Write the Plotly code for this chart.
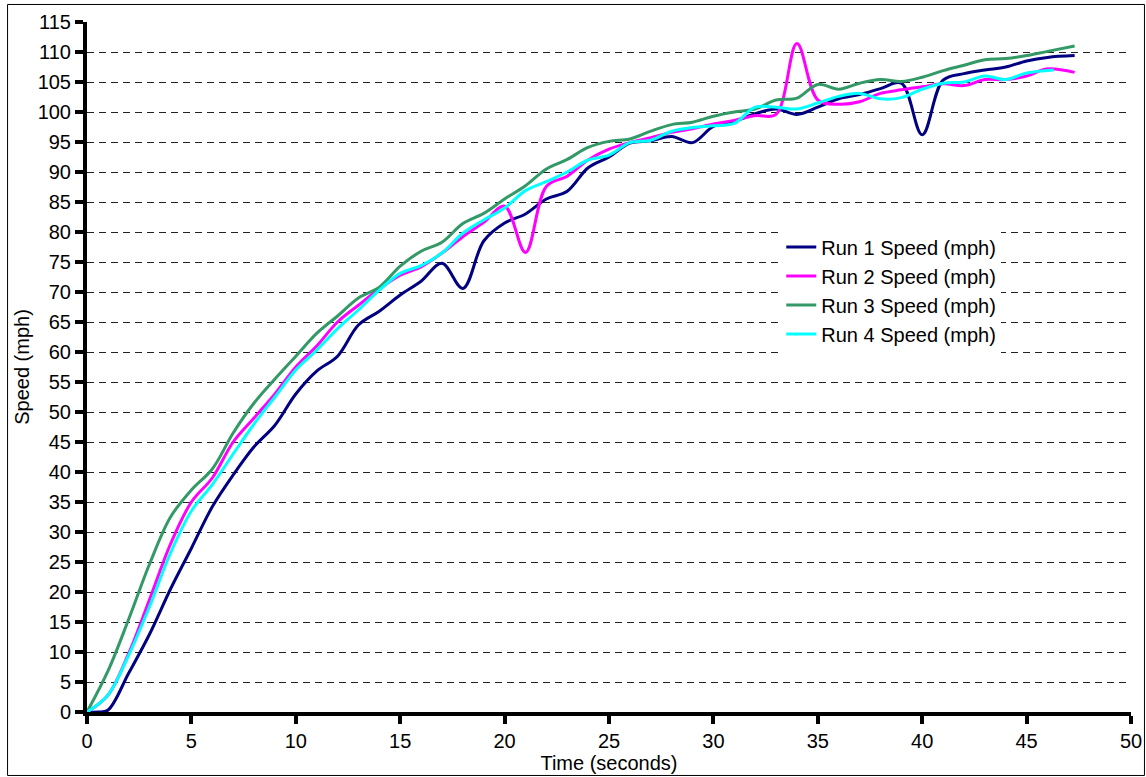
import plotly.graph_objects as go

# ---- data ----
run1_t = [0, 0.5, 1, 2, 3, 4, 5, 6, 7, 8, 9, 10, 11, 12, 13, 14, 15, 16, 17, 18, 19, 20,
          21, 22, 23, 24, 25, 26, 27, 28, 29, 30, 31, 32, 33, 34, 35, 36, 37, 38, 39, 40,
          41, 42, 43, 44, 45, 46, 47.3]
run1_v = [0, 0, 0.3, 6.5, 13, 20.5, 27.3, 34.2, 39.5, 44.2, 47.8, 53, 56.8, 59.3, 64.5, 66.8,
          69.5, 71.8, 74.8, 70.6, 78.5, 81.5, 83, 85.5, 86.8, 90.7, 92.5, 94.8, 95.2, 95.9,
          94.9, 97.6, 98.4, 99.7, 100.5, 99.6, 100.8, 102.2, 102.9, 103.9, 104.8, 96.2,
          105.3, 106.4, 107.0, 107.5, 108.5, 109.1, 109.4]

run2_t = [0, 1, 2, 3, 4, 5, 6, 7, 8, 9, 10, 11, 12, 13, 14, 15, 16, 17, 18, 19, 20,
          21, 22, 23, 24, 25, 26, 27, 28, 29, 30, 31, 32, 33, 34, 35, 36, 37, 38, 39, 40,
          41, 42, 43, 44, 45, 46, 47.3]
run2_v = [0, 2.8, 9.8, 18.8, 28, 35, 39, 45, 49, 53, 57.5, 61, 65, 67.8, 70.5, 72.8, 74.2,
          76.5, 79.2, 81.6, 84.3, 76.6, 87.6, 89.3, 92, 93.8, 94.9, 95.7, 96.6, 97.2, 98,
          98.6, 99.4, 99.6, 111.4, 102, 101.3, 101.7, 103.1, 103.7, 104.2, 104.7, 104.4,
          105.4, 105.4, 106, 107.2, 106.6]

run3_t = [0, 1, 2, 3, 4, 5, 6, 7, 8, 9, 10, 11, 12, 13, 14, 15, 16, 17, 18, 19, 20,
          21, 22, 23, 24, 25, 26, 27, 28, 29, 30, 31, 32, 33, 34, 35, 36, 37, 38, 39, 40,
          41, 42, 43, 44, 45, 46, 47.3]
run3_v = [0, 6.8, 15.5, 24.7, 32.5, 37, 40.5, 46.5, 51.5, 55.5, 59.3, 63.1, 66, 69, 70.8,
          74.3, 76.8, 78.3, 81.4, 83.1, 85.5, 87.7, 90.5, 92.1, 94.1, 95.1, 95.5, 96.8, 97.9,
          98.3, 99.3, 100, 100.5, 102, 102.3, 104.6, 103.8, 104.8, 105.4, 105.1, 105.8,
          106.9, 107.8, 108.7, 108.9, 109.4, 110.1, 111]

run4_t = [0, 1, 2, 3, 4, 5, 6, 7, 8, 9, 10, 11, 12, 13, 14, 15, 16, 17, 18, 19, 20,
          21, 22, 23, 24, 25, 26, 27, 28, 29, 30, 31, 32, 33, 34, 35, 36, 37, 38, 39, 40,
          41, 42, 43, 44, 45, 46.3]
run4_v = [0, 2.8, 9.5, 17.6, 26.5, 33.5, 37.9, 43, 48, 52.5, 57, 60.3, 63.9, 67, 70.3, 73.1,
          74.4, 76.5, 79.8, 82, 84, 86.9, 88.4, 90, 92, 92.8, 94.9, 95.3, 96.8, 97.4, 97.7,
          98.1, 100.8, 100.8, 100.5, 101.5, 102.6, 103.1, 102.2, 102.4, 103.8, 104.8, 105,
          106, 105.4, 106.5, 107]

series_names = ["Run 1 Speed (mph)", "Run 2 Speed (mph)", "Run 3 Speed (mph)", "Run 4 Speed (mph)"]
series_colors = ["#000080", "#FF00FF", "#339966", "#00FFFF"]

x_ticks = list(range(0, 51, 5))
y_ticks = list(range(0, 116, 5))

FONT = "Arial, 'Liberation Sans', sans-serif"
FS = 20

fig = go.Figure()
for i, (t, v) in enumerate([(run1_t, run1_v), (run2_t, run2_v), (run3_t, run3_v), (run4_t, run4_v)]):
    fig.add_trace(go.Scatter(
        x=t, y=v, mode="lines", name=series_names[i], legendgroup=f"g{i}",
        line=dict(color=series_colors[i], width=3, shape="spline", smoothing=1.0),
    ))

fig.update_layout(
    width=1146, height=777,
    margin=dict(l=87, r=15, t=22, b=65),
    paper_bgcolor="white", plot_bgcolor="white",
    font=dict(family=FONT, size=FS, color="black"),
    showlegend=True,
    legend=dict(
        x=0.665, y=0.702, xanchor="left", yanchor="top",
        bgcolor="white", borderwidth=0,
        font=dict(family=FONT, size=FS, color="black"),
        tracegroupgap=0, itemwidth=30,
    ),
    xaxis=dict(
        range=[0, 50], tickvals=x_ticks, ticktext=[str(v) for v in x_ticks],
        ticks="outside", ticklen=8, tickwidth=4, tickcolor="black",
        showline=True, linewidth=4, linecolor="black",
        showgrid=False, zeroline=False, automargin=False,
        tickfont=dict(family=FONT, size=FS),
        title=dict(text="Time (seconds)", font=dict(family=FONT, size=FS), standoff=2),
    ),
    yaxis=dict(
        range=[0, 115], tickvals=y_ticks, ticktext=[str(v) for v in y_ticks],
        ticks="outside", ticklen=8, tickwidth=4, tickcolor="black",
        showline=True, linewidth=4, linecolor="black",
        showgrid=True, gridcolor="#222222", gridwidth=1, griddash="7px,5px",
        zeroline=False, automargin=False,
        tickfont=dict(family=FONT, size=FS),
        title=dict(text="Speed (mph)", font=dict(family=FONT, size=FS), standoff=4),
    ),
    xaxis2=dict(
        overlaying="x", anchor="y", side="bottom", range=[0, 50], tickvals=x_ticks,
        ticks="inside", ticklen=8, tickwidth=4, tickcolor="black", automargin=False,
        showticklabels=False, showline=False, showgrid=False, zeroline=False,
    ),
    yaxis2=dict(
        overlaying="y", anchor="x", side="left", range=[0, 115], tickvals=y_ticks,
        ticks="inside", ticklen=8, tickwidth=4, tickcolor="black", automargin=False,
        showticklabels=False, showline=False, showgrid=False, zeroline=False,
    ),
)

# outer chart border
fig.add_shape(type="rect", xref="paper", yref="paper",
              x0=-0.0761, x1=1.0129, y0=-0.092, y1=1.0254,
              line=dict(color="black", width=1), fillcolor="rgba(0,0,0,0)", layer="below")

fig.write_html(
    "out.html",
    config={"displayModeBar": False, "responsive": False},
    post_script="document.body.style.margin='0';document.body.style.overflow='hidden';",
)
